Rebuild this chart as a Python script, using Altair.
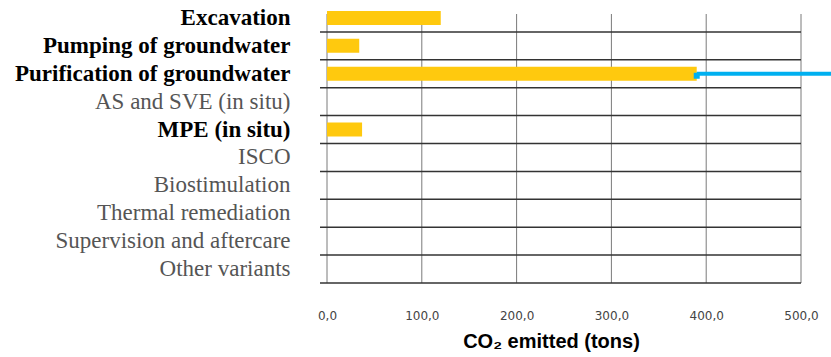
import json
import altair as alt
import pandas as pd

categories = [
    "Excavation",
    "Pumping of groundwater",
    "Purification of groundwater",
    "AS and SVE (in situ)",
    "MPE (in situ)",
    "ISCO",
    "Biostimulation",
    "Thermal remediation",
    "Supervision and aftercare",
    "Other variants",
]
co2_tons = [120, 34, 390, 0, 37, 0, 0, 0, 0, 0]
bold_labels = [
    "Excavation",
    "Pumping of groundwater",
    "Purification of groundwater",
    "MPE (in situ)",
]
x_ticks = [0, 100, 200, 300, 400, 500]
highlight = "Purification of groundwater"

df = pd.DataFrame({"category": categories, "co2": co2_tons})
ticks_df = pd.DataFrame({"t": x_ticks})
hl_df = df[df["category"] == highlight]

W, H = 474, 279
yscale = alt.Scale(domain=categories, paddingInner=0, paddingOuter=0)
xscale = alt.Scale(domain=[0, 500], nice=False, zero=True)

bold_test = f"indexof({json.dumps(bold_labels)}, datum.value) >= 0"

vgrid = alt.Chart(ticks_df).mark_rule(color="#7a7a7a", strokeWidth=1).encode(
    x=alt.X("t:Q", scale=xscale),
    y=alt.value(10),
    y2=alt.value(H),
)

hgrid = alt.Chart(df).mark_rule(color="#333333", strokeWidth=1.5).encode(
    y=alt.Y("category:N", scale=yscale, bandPosition=1),
    x=alt.value(-7),
    x2=alt.value(W),
)

bars = alt.Chart(df).mark_bar(color="#FFC90E", size=14).encode(
    x=alt.X(
        "co2:Q",
        scale=xscale,
        axis=alt.Axis(
            values=x_ticks,
            labelExpr="replace(format(datum.value, '.1f'), '.', ',')",
            title="CO₂ emitted (tons)",
            grid=False,
            domain=False,
            ticks=False,
            labelFlush=False,
            labelFont="DejaVu Sans",
            labelFontSize=12,
            labelColor="#444444",
            labelPadding=27,
            titleFont="Liberation Sans",
            titleFontSize=20,
            titleFontWeight="bold",
            titleColor="#000000",
            titlePadding=10,
            titleX=224,
        ),
    ),
    y=alt.Y(
        "category:N",
        scale=yscale,
        axis=alt.Axis(
            title=None,
            domain=False,
            ticks=False,
            grid=False,
            labelFont="Liberation Serif",
            labelFontSize=23,
            labelPadding=37,
            labelLimit=400,
            labelFontWeight=alt.condition(bold_test, alt.value("bold"), alt.value("normal")),
            labelColor=alt.condition(bold_test, alt.value("#000000"), alt.value("#555555")),
        ),
    ),
)

blue_line = alt.Chart(hl_df).mark_rule(color="#00B0F0", strokeWidth=4).encode(
    x=alt.X("co2:Q", scale=xscale),
    x2=alt.value(520),
    y=alt.Y("category:N", scale=yscale),
)

blue_sq = alt.Chart(hl_df).mark_square(color="#00B0F0", size=36, opacity=1, yOffset=2).encode(
    x=alt.X("co2:Q", scale=xscale),
    y=alt.Y("category:N", scale=yscale),
)

chart = (
    alt.layer(vgrid, hgrid, bars, blue_line, blue_sq)
    .properties(
        width=W,
        height=H,
        padding={"left": 327, "top": 4, "right": 30, "bottom": 74},
        autosize=alt.AutoSizeParams(type="none"),
        background="white",
    )
    .configure_view(stroke=None)
)

chart.save("out.html", embed_options={"renderer": "svg", "actions": False})
